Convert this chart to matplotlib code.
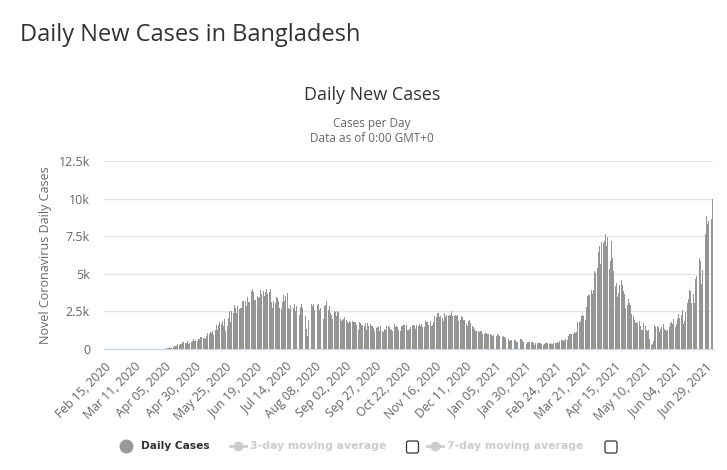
import matplotlib
matplotlib.use('Agg')
import matplotlib.pyplot as plt
from matplotlib.patches import FancyBboxPatch
from matplotlib.lines import Line2D
import numpy as np
import pandas as pd

plt.rcParams['font.family'] = ['Open Sans', 'DejaVu Sans']

# daily new cases, one list per month
feb20 = [0] * 15
mar20 = [0, 0, 0, 0, 0, 0, 0, 3, 0, 0, 0, 0, 0, 2, 0, 3, 2, 4, 1, 3, 4, 3, 6, 6, 0, 5, 4, 0, 0, 1, 2]
apr20 = [3, 2, 5, 9, 18, 35, 41, 54, 112, 94, 58, 139, 182, 209, 219, 341, 266, 306, 312, 492,
         434, 390, 414, 503, 309, 418, 497, 549, 641, 564]
may20 = [571, 552, 665, 688, 790, 786, 706, 709, 636, 887, 1034, 969, 1162, 1041, 1202, 930,
         1273, 1602, 1251, 1617, 1773, 1694, 1873, 1532, 1975, 1166, 1541, 2029, 2523, 1764, 2545]
jun20 = [2381, 2911, 2695, 2423, 2828, 2635, 2743, 2735, 3171, 3190, 3187, 2856, 3471, 3099, 3141,
         3862, 4008, 3803, 3243, 3240, 3531, 3412, 3462, 3946, 3676, 3868, 3504, 3809, 4014, 3682]
jul20 = [3775, 4019, 3114, 2738, 3201, 3027, 3489, 3360, 3163, 2709, 2686, 3099, 3618, 3163, 3533,
         3733, 2733, 2666, 2928, 3057, 2744, 2960, 2520, 2856, 2548, 2275, 2772, 2960, 2695, 2772, 2199]
aug20 = [1356, 887, 1918, 2654, 2977, 2851, 2977, 2611, 1833, 2907, 2996, 2617, 2747, 2766, 2024,
         2871, 2907, 3200, 2595, 2868, 2401, 2265, 1985, 2545, 2485, 2211, 2519, 2436, 1973, 1873, 1950]
sep20 = [2024, 2158, 1950, 1792, 1725, 1892, 1802, 1892, 1814, 1827, 1792, 1615, 1282, 1812, 1724,
         1615, 1593, 1557, 1705, 1275, 1705, 1557, 1666, 1544, 1502, 1407, 1183, 1390, 1488, 1436]
oct20 = [1193, 1501, 1182, 1125, 1348, 1275, 1537, 1545, 1472, 1308, 1293, 1193, 1637, 1471, 1516,
         1439, 1275, 1177, 1524, 1541, 1590, 1586, 1568, 1282, 1274, 1308, 1493, 1604, 1608, 1517, 1336]
nov20 = [1568, 1531, 1633, 1517, 1678, 1469, 1474, 1837, 1788, 1826, 1607, 1845, 1531, 1605, 1819,
         2212, 2111, 2364, 2364, 2139, 2212, 2060, 1847, 2419, 2156, 2293, 2191, 2275, 2292, 2525]
dec20 = [2212, 2198, 2230, 2198, 2245, 1847, 1940, 2198, 2156, 1895, 1951, 1660, 1514, 1894, 1895,
         1698, 1529, 1435, 1316, 1193, 1210, 1186, 1150, 1195, 1177, 1014, 997, 1034, 1082, 999, 1014]
jan21 = [974, 958, 885, 910, 1012, 874, 1007, 963, 871, 654, 769, 890, 802, 748, 672, 642, 546,
         620, 569, 704, 622, 590, 475, 478, 527, 640, 637, 531, 462, 541, 347]
feb21 = [446, 437, 457, 433, 451, 407, 292, 396, 412, 431, 407, 390, 335, 291, 340, 402, 391, 399,
         323, 371, 342, 314, 394, 417, 401, 491, 392, 545]
mar21 = [585, 630, 515, 614, 635, 606, 845, 1018, 1019, 1001, 1014, 1159, 1057, 1159, 1773, 1779,
         1865, 2187, 2253, 2180, 1896, 2809, 3554, 3567, 3587, 3945, 3674, 3908, 5181, 5042, 5358]
apr21 = [6469, 6830, 5683, 7087, 7075, 7213, 7626, 6854, 7462, 5343, 5819, 7201, 6028, 5185, 4192,
         4417, 3473, 3698, 4271, 4559, 4280, 3869, 3629, 2697, 2922, 3306, 3031, 2955, 2341, 2177]
may21 = [1914, 1739, 1822, 1742, 1892, 1497, 1285, 1286, 1747, 1514, 1273, 1230, 1290, 692, 263,
         363, 500, 1608, 1461, 1497, 1442, 1114, 1322, 1441, 1675, 1329, 1292, 1230, 1288, 1490, 1710]
jun21 = [1765, 1651, 1988, 1447, 1676, 1970, 2322, 2061, 2237, 2576, 1637, 1873, 2436, 3050, 3319,
         3956, 3840, 3057, 3641, 3057, 4636, 4846, 5727, 6058, 5869, 4334, 5268, 8364, 7666, 8822]
jul21 = [8301, 8483, 6214, 8661, 9964]

cases = (feb20 + mar20 + apr20 + may20 + jun20 + jul20 + aug20 + sep20 + oct20 + nov20 + dec20
         + jan21 + feb21 + mar21 + apr21 + may21 + jun21 + jul21)
dates = pd.date_range('2020-02-15', periods=len(cases), freq='D')
y_ticks = [0, 2500, 5000, 7500, 10000, 12500]
y_labels = ['0', '2.5k', '5k', '7.5k', '10k', '12.5k']

W, H = 727, 470
fig = plt.figure(figsize=(W / 100, H / 100), dpi=100)
fig.patch.set_facecolor('white')

ax = fig.add_axes([104 / W, 1 - 349 / H, (713 - 104) / W, (349 - 161) / H])
x = np.arange(len(cases))
ax.bar(x, cases, width=0.8, color='#959595', linewidth=0, zorder=2)

ax.set_xlim(-0.5, len(cases) - 0.5)
ax.set_ylim(0, 12500)
ax.set_yticks(y_ticks)
ax.set_yticklabels(y_labels)
ax.grid(axis='y', color='#e6e6e6', linewidth=1, zorder=0)
for s in ['top', 'right', 'left']:
    ax.spines[s].set_visible(False)
ax.spines['bottom'].set_color('#ccd6eb')
ax.tick_params(axis='y', length=0, pad=10, labelsize=9, labelcolor='#666666')

xt = x[::25]
ax.set_xticks(xt)
ax.set_xticklabels([d.strftime('%b %d, %Y') for d in dates[::25]], rotation=45,
                   ha='right', rotation_mode='anchor')
ax.tick_params(axis='x', length=0, pad=8, labelsize=8.8, labelcolor='#666666')

ax.set_ylabel('Novel Coronavirus Daily Cases', fontsize=9, color='#666666', labelpad=5)

fig.text(20 / W, 1 - 35 / H, 'Daily New Cases in Bangladesh', fontsize=17, color='#333333',
         va='center', ha='left')
fig.text(372 / W, 1 - 95 / H, 'Daily New Cases', fontsize=13, color='#333333',
         va='center', ha='center')
fig.text(372 / W, 1 - 124 / H, 'Cases per Day', fontsize=8.5, color='#666666',
         va='center', ha='center')
fig.text(372 / W, 1 - 138 / H, 'Data as of 0:00 GMT+0', fontsize=8.5, color='#666666',
         va='center', ha='center')

# legend drawn in pixel coordinates
lg = fig.add_axes([0, 0, 1, 1], facecolor='none')
lg.set_xlim(0, W)
lg.set_ylim(H, 0)
lg.axis('off')
ly = 446
lg.plot(125.5, ly, 'o', ms=9, color='#999999')
lg.text(141, ly, 'Daily Cases', fontsize=7.7, fontweight='bold', color='#333333',
        va='center', ha='left', family='DejaVu Sans')
for x0, label, bx in [(230, '3-day moving average', 412.5), (427, '7-day moving average', 611)]:
    lg.add_line(Line2D([x0, x0 + 16], [ly, ly], color='#cccccc', lw=2))
    lg.plot(x0 + 8, ly, 'o', ms=6, color='#cccccc')
    lg.text(x0 + 20, ly, label, fontsize=7.8, fontweight='bold', color='#cccccc',
            va='center', ha='left', family='DejaVu Sans')
    lg.add_patch(FancyBboxPatch((bx - 6, ly - 5), 12, 12, boxstyle='round,pad=0,rounding_size=2',
                                facecolor='white', edgecolor='#333333', lw=0.9))

fig.savefig('out.png', dpi=100)
